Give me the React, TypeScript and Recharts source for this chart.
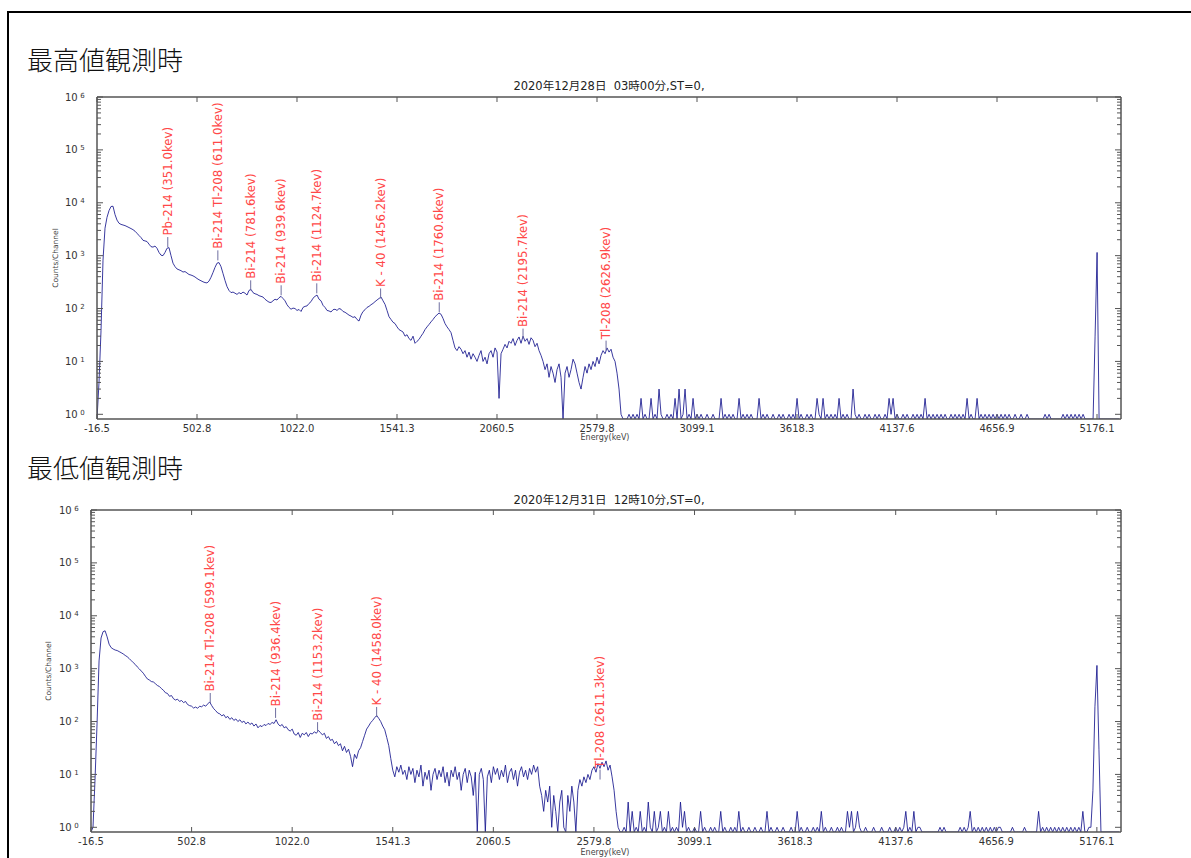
import React from 'react';
import { LineChart, Line, XAxis, YAxis, ReferenceDot } from 'recharts';

const FONT = "'DejaVu Sans', 'Noto Sans CJK JP', sans-serif";
const CJK_FONT = "'Noto Sans CJK JP', 'Noto Sans CJK SC', sans-serif";
const AXIS = '#555';
const TICK_TEXT = '#333';
const LINE = '#16168e';
const ANNOT_TEXT = '#ff4848';
const ANNOT_LINE = '#6e6ea0';

// energy calibration of the spectrum (1024 channels)
const E_START = -16.5;
const KEV_PER_CHANNEL = 5.193;
const CHANNELS_PER_POINT = 2;
const E_END = 5300.7;

const ENERGY_TICKS = [-16.5, 502.8, 1022.0, 1541.3, 2060.5, 2579.8, 3099.1, 3618.3, 4137.6, 4656.9, 5176.1];
const DECADES = [1, 10, 100, 1000, 10000, 100000, 1000000];
const MINOR_MULT = [2, 3, 4, 5, 6, 7, 8, 9];
const Y_FLOOR = 0.815;

// ---- chart 1 : 最高値観測時  (counts per 2 channels)
const HIGH_COUNTS_MAIN = [
  0, 4, 38, 820, 3300, 5300, 7100, 8500, 8600, 6000, 4700, 4100, 3900, 3800, 3700, 3550, 3400, 3250, 3100, 2900,
  2650, 2400, 2200, 1950, 1900, 1850, 1650, 1480, 1450, 1520, 1380, 1150, 1020, 1000, 1150, 1380, 1420, 1000, 720, 620,
  560, 540, 520, 490, 500, 470, 440, 430, 415, 395, 370, 350, 335, 320, 310, 305, 330, 390, 480, 600,
  720, 740, 620, 460, 340, 260, 220, 200, 205, 195, 185, 200, 190, 205, 195, 180, 220, 230, 200, 190,
  185, 175, 170, 165, 150, 140, 132, 130, 140, 150, 145, 160, 170, 155, 140, 118, 105, 97, 102, 100,
  92, 96, 88, 105, 110, 112, 125, 135, 157, 170, 180, 150, 140, 115, 105, 92, 90, 86, 95, 97,
  92, 100, 97, 88, 85, 80, 75, 72, 68, 70, 62, 58, 75, 88, 95, 105, 110, 118, 125, 135,
  145, 155, 165, 140, 120, 92, 70, 62, 55, 52, 45, 40, 38, 36, 30, 32, 27, 25, 30, 22,
  24, 26, 30, 34, 40, 45, 50, 56, 62, 70, 76, 82, 78, 65, 52, 45, 40, 35, 25, 18,
  16, 19, 17, 14, 16, 12, 15, 11, 14, 12, 10, 13, 16, 10, 12, 9, 14, 16, 12, 18,
  15, 2, 14, 17, 21, 18, 24, 22, 27, 20, 25, 29, 22, 30, 24, 27, 21, 28, 25, 19,
  22, 16, 13, 10, 7, 9, 5, 8, 6, 4, 7, 9, 5, 0, 6, 8, 5, 7, 11, 9,
  6, 4, 3, 5, 8, 6, 9, 7, 10, 8, 12, 9, 13, 16, 14, 18, 15, 17, 12, 10,
  6, 3, 1, 0,
];
const HIGH_COUNTS_TAIL = [
  0, 0, 1, 0, 1, 0, 1, 0, 2, 0, 1, 0, 0, 2, 0, 1, 0, 3, 1, 0,
  0, 1, 0, 1, 0, 2, 0, 3, 0, 1, 3, 0, 1, 0, 2, 0, 1, 0, 1, 0,
  0, 1, 0, 0, 1, 0, 0, 0, 2, 0, 1, 0, 1, 0, 1, 0, 0, 2, 0, 1,
  0, 1, 0, 1, 0, 0, 0, 2, 0, 1, 0, 1, 0, 0, 1, 0, 0, 1, 0, 1,
  0, 0, 1, 0, 1, 0, 2, 0, 1, 0, 0, 1, 0, 1, 0, 0, 2, 1, 0, 2,
  0, 1, 0, 1, 0, 1, 0, 2, 0, 1, 0, 1, 0, 0, 3, 1, 0, 1, 0, 0,
  1, 0, 1, 0, 0, 1, 0, 1, 0, 0, 1, 0, 2, 1, 2, 0, 1, 0, 0, 1,
  0, 1, 0, 0, 1, 0, 1, 0, 1, 0, 2, 0, 1, 0, 1, 0, 1, 0, 1, 0,
  1, 0, 0, 1, 0, 1, 0, 1, 0, 1, 0, 2, 0, 1, 0, 0, 2, 0, 1, 0,
  1, 0, 1, 0, 1, 0, 1, 0, 1, 0, 1, 0, 1, 0, 0, 1, 0, 0, 1, 0,
  0, 1, 0, 0, 0, 0, 0, 0, 0, 0, 1, 0, 1, 0, 0, 0, 0, 0, 0, 1,
  0, 1, 0, 1, 0, 1, 0, 1, 0, 1, 0, 0, 0, 0, 0, 30, 1150, 0, 0, 0,
  0, 0, 0, 0, 0, 0, 0, 0,
];
const HIGH_PEAK_ENERGY = [351.0, 611.0, 781.6, 939.6, 1124.7, 1456.2, 1760.6, 2195.7, 2626.9];
const HIGH_PEAK_LABEL = [
  'Pb-214 (351.0kev)', 'Bi-214 Tl-208 (611.0kev)', 'Bi-214 (781.6kev)', 'Bi-214 (939.6kev)',
  'Bi-214 (1124.7kev)', 'K - 40 (1456.2kev)', 'Bi-214 (1760.6kev)', 'Bi-214 (2195.7kev)', 'Tl-208 (2626.9kev)',
];
const HIGH_PEAK_LEVEL = [1455, 815, 221, 178, 194, 155, 85, 27, 16];

// ---- chart 2 : 最低値観測時
const LOW_COUNTS_MAIN = [
  0, 1, 8, 90, 1400, 3800, 5000, 5200, 4000, 2900, 2500, 2350, 2250, 2200, 2100, 2000, 1900, 1780, 1680, 1550,
  1420, 1300, 1200, 1080, 990, 900, 820, 720, 640, 610, 570, 560, 520, 480, 460, 420, 390, 350, 340, 300,
  310, 270, 255, 265, 240, 250, 228, 240, 210, 200, 195, 180, 188, 178, 195, 190, 205, 195, 215, 235,
  200, 175, 160, 145, 140, 128, 135, 118, 125, 110, 118, 105, 112, 100, 108, 96, 102, 90, 98, 88,
  94, 82, 90, 76, 84, 80, 88, 84, 92, 88, 96, 92, 108, 90, 82, 88, 76, 80, 70, 66,
  72, 58, 55, 62, 50, 60, 56, 62, 52, 60, 58, 64, 60, 68, 62, 56, 60, 48, 52, 44,
  46, 38, 42, 35, 38, 28, 34, 26, 30, 22, 14, 24, 20, 28, 32, 42, 55, 72, 82, 95,
  105, 118, 130, 115, 100, 82, 70, 50, 35, 20, 12, 9, 14, 11, 15, 10, 12, 8, 14, 10,
  13, 7, 12, 9, 15, 6, 11, 8, 12, 5, 10, 13, 8, 12, 9, 14, 7, 11, 6, 12,
  9, 14, 8, 11, 5, 10, 13, 7, 12, 9, 4, 11, 0, 10, 13, 8, 0, 9, 12, 7,
  14, 10, 13, 8, 12, 9, 15, 7, 11, 13, 8, 12, 6, 11, 14, 9, 12, 8, 13, 10,
  15, 11, 14, 6, 4, 2, 5, 3, 6, 1, 4, 2, 0, 3, 5, 1, 0, 4, 2, 6,
  3, 0, 5, 8, 6, 9, 7, 10, 8, 12, 14, 11, 16, 13, 17, 14, 18, 12, 15, 9,
  5, 2, 1, 0,
];
const LOW_COUNTS_TAIL = [
  0, 1, 0, 3, 0, 2, 0, 1, 0, 2, 0, 1, 0, 3, 1, 0, 2, 0, 1, 2,
  0, 1, 0, 2, 0, 1, 0, 1, 0, 3, 1, 2, 0, 1, 0, 0, 1, 0, 0, 2,
  0, 1, 0, 0, 1, 0, 1, 0, 0, 2, 0, 1, 0, 0, 1, 0, 1, 0, 2, 0,
  1, 0, 0, 1, 0, 0, 1, 0, 0, 1, 0, 0, 2, 0, 1, 0, 0, 1, 0, 0,
  1, 0, 0, 0, 1, 0, 0, 2, 0, 1, 0, 0, 1, 0, 0, 1, 0, 1, 0, 2,
  0, 1, 0, 0, 1, 0, 0, 1, 0, 1, 0, 0, 2, 1, 2, 0, 1, 2, 1, 0,
  0, 1, 0, 0, 0, 1, 0, 0, 0, 1, 0, 0, 0, 1, 0, 0, 1, 0, 1, 0,
  1, 2, 0, 1, 0, 2, 0, 1, 1, 0, 0, 0, 0, 0, 0, 0, 0, 0, 1, 0,
  1, 0, 0, 0, 0, 0, 0, 0, 1, 0, 1, 0, 1, 2, 0, 1, 0, 1, 0, 1,
  0, 1, 0, 1, 0, 1, 0, 1, 1, 0, 0, 0, 0, 0, 1, 0, 0, 0, 0, 0,
  1, 0, 0, 0, 0, 0, 0, 2, 0, 1, 0, 1, 0, 1, 0, 1, 0, 1, 0, 1,
  0, 1, 0, 1, 0, 1, 0, 1, 0, 2, 0, 0, 1, 1, 5, 190, 1150, 30, 0, 0,
  0, 0, 0, 0, 0, 0, 0, 0,
];
const LOW_PEAK_ENERGY = [599.1, 936.4, 1153.2, 1458.0, 2611.3];
const LOW_PEAK_LABEL = [
  'Bi-214 Tl-208 (599.1kev)', 'Bi-214 (936.4kev)', 'Bi-214 (1153.2kev)', 'K - 40 (1458.0kev)', 'Tl-208 (2611.3kev)',
];
const LOW_PEAK_LEVEL = [224, 117, 63, 122, 8];

const toSeries = (counts: number[]) =>
  counts.map((c, i) => ({
    e: E_START + i * CHANNELS_PER_POINT * KEV_PER_CHANNEL,
    c: Math.max(c, Y_FLOOR),
  }));

const Y_TICKS = [
  ...DECADES,
  ...DECADES.slice(0, 6).flatMap((d) => MINOR_MULT.map((m) => m * d)),
].sort((a, b) => a - b);

const isMajor = (v: number) => DECADES.includes(v);

const LeftTick = ({ x, y, payload }: any) => {
  const v = payload.value;
  const major = isMajor(v);
  return (
    <g>
      <line x1={x} x2={x + (major ? 6 : 4)} y1={y} y2={y} stroke={AXIS} strokeWidth={1} />
      {major && (
        <text x={x - 32} y={y + 3.5} fontSize={10} fill={TICK_TEXT} fontFamily={FONT}>
          10
          <tspan dx={2.5} dy={-3} fontSize={7}>
            {Math.round(Math.log10(v))}
          </tspan>
        </text>
      )}
    </g>
  );
};

const RightTick = ({ x, y, payload }: any) => {
  const major = isMajor(payload.value);
  return <line x1={x} x2={x - (major ? 6 : 4)} y1={y} y2={y} stroke={AXIS} strokeWidth={1} />;
};

const BottomTick = ({ x, y, payload }: any) => (
  <g>
    <line x1={x} x2={x} y1={y} y2={y - 5} stroke={AXIS} strokeWidth={1} />
    <text x={x} y={y + 12.5} textAnchor="middle" fontSize={10} fill={TICK_TEXT} fontFamily={FONT}>
      {Number(payload.value).toFixed(1)}
    </text>
  </g>
);

const TopTick = ({ x, y }: any) => (
  <line x1={x} x2={x} y1={y} y2={y + 5} stroke={AXIS} strokeWidth={1} />
);

const makeAnnot = (label: string) => (p: any) => {
  const { cx, cy } = p;
  const top = cy - 10;
  const ty = top - 1.5;
  return (
    <g>
      <line x1={cx} x2={cx} y1={cy} y2={top} stroke={ANNOT_LINE} strokeWidth={1} />
      <text
        x={cx}
        y={ty}
        transform={`rotate(-90 ${cx} ${ty})`}
        textAnchor="start"
        dominantBaseline="central"
        fontSize={11.8}
        fill={ANNOT_TEXT}
        fontFamily={FONT}
      >
        {label}
      </text>
    </g>
  );
};

function Spectrum({ data, peakEnergy, peakLabel, peakLevel, width, height, margin, bottomHeight }: any) {
  return (
    <LineChart width={width} height={height} data={data} margin={margin}>
      <XAxis
        xAxisId="b"
        dataKey="e"
        type="number"
        domain={[E_START, E_END]}
        allowDataOverflow
        ticks={ENERGY_TICKS}
        interval={0}
        tickSize={0}
        tickMargin={0}
        tickLine={false}
        tick={(p: any) => <BottomTick {...p} />}
        axisLine={{ stroke: AXIS, strokeWidth: 1.5 }}
        height={bottomHeight}
      />
      <XAxis
        xAxisId="t"
        orientation="top"
        dataKey="e"
        type="number"
        domain={[E_START, E_END]}
        allowDataOverflow
        ticks={ENERGY_TICKS}
        interval={0}
        tickSize={0}
        tickMargin={0}
        tickLine={false}
        tick={(p: any) => <TopTick {...p} />}
        axisLine={{ stroke: AXIS, strokeWidth: 1.5 }}
        height={1}
      />
      <YAxis
        yAxisId="l"
        scale="log"
        type="number"
        domain={[Y_FLOOR, 1000000]}
        allowDataOverflow
        ticks={Y_TICKS}
        interval={0}
        tickSize={0}
        tickMargin={0}
        tickLine={false}
        tick={(p: any) => <LeftTick {...p} />}
        axisLine={{ stroke: AXIS, strokeWidth: 1.5 }}
        width={57}
      />
      <YAxis
        yAxisId="r"
        orientation="right"
        scale="log"
        type="number"
        domain={[Y_FLOOR, 1000000]}
        allowDataOverflow
        ticks={Y_TICKS}
        interval={0}
        tickSize={0}
        tickMargin={0}
        tickLine={false}
        tick={(p: any) => <RightTick {...p} />}
        axisLine={{ stroke: AXIS, strokeWidth: 1.5 }}
        width={1}
      />
      <Line
        xAxisId="b"
        yAxisId="l"
        type="linear"
        dataKey="c"
        stroke={LINE}
        strokeWidth={0.85}
        dot={false}
        activeDot={false}
        isAnimationActive={false}
      />
      {peakEnergy.map((e: number, i: number) => (
        <ReferenceDot
          key={i}
          xAxisId="b"
          yAxisId="l"
          x={e}
          y={peakLevel[i]}
          r={0}
          ifOverflow="visible"
          shape={makeAnnot(peakLabel[i])}
        />
      ))}
    </LineChart>
  );
}

const abs = (left: number, top: number, extra: any = {}) => ({ position: 'absolute' as const, left, top, ...extra });

export default function App() {
  const highData = toSeries([...HIGH_COUNTS_MAIN, ...HIGH_COUNTS_TAIL]);
  const lowData = toSeries([...LOW_COUNTS_MAIN, ...LOW_COUNTS_TAIL]);
  const heading = {
    fontFamily: CJK_FONT,
    fontSize: 26,
    fontWeight: 300,
    lineHeight: '26px',
    color: '#111',
    whiteSpace: 'nowrap' as const,
  };
  const title = {
    fontFamily: FONT,
    fontSize: 11.5,
    lineHeight: '12px',
    color: '#222',
    width: 400,
    textAlign: 'center' as const,
    whiteSpace: 'pre' as const,
  };
  const ylab = {
    fontFamily: FONT,
    fontSize: 7.5,
    color: '#444',
    whiteSpace: 'nowrap' as const,
    transform: 'translate(-50%, -50%) rotate(-90deg)',
  };
  const xlab = {
    fontFamily: FONT,
    fontSize: 8,
    color: '#444',
    whiteSpace: 'nowrap' as const,
    transform: 'translate(-50%, -50%)',
  };
  return (
    <div style={{ position: 'fixed', left: 0, top: 0, width: 1191, height: 858, overflow: 'hidden', background: '#fff' }}>
      <div style={abs(7, 11, { width: 1300, height: 900, borderTop: '2px solid #000', borderLeft: '2px solid #000' })} />

      <div style={abs(27, 46, heading)}>最高値観測時</div>
      <div style={abs(409, 80, title)}>{'2020年12月28日  03時00分,ST=0,'}</div>
      <div style={abs(55, 258, ylab)}>Counts/Channel</div>
      <div style={abs(40, 75)}>
        <Spectrum
          data={highData}
          peakEnergy={HIGH_PEAK_ENERGY}
          peakLabel={HIGH_PEAK_LABEL}
          peakLevel={HIGH_PEAK_LEVEL}
          width={1100}
          height={380}
          margin={{ top: 21, right: 18, bottom: 6, left: 0 }}
          bottomHeight={30}
        />
      </div>
      <div style={abs(605, 437, xlab)}>Energy(keV)</div>

      <div style={abs(27, 454, heading)}>最低値観測時</div>
      <div style={abs(409, 494, title)}>{'2020年12月31日  12時10分,ST=0,'}</div>
      <div style={abs(48, 671, ylab)}>Counts/Channel</div>
      <div style={abs(34, 488)}>
        <Spectrum
          data={lowData}
          peakEnergy={LOW_PEAK_ENERGY}
          peakLabel={LOW_PEAK_LABEL}
          peakLevel={LOW_PEAK_LEVEL}
          width={1106}
          height={370}
          margin={{ top: 21, right: 18, bottom: 0, left: 0 }}
          bottomHeight={26}
        />
      </div>
      <div style={abs(605, 852, xlab)}>Energy(keV)</div>
    </div>
  );
}
